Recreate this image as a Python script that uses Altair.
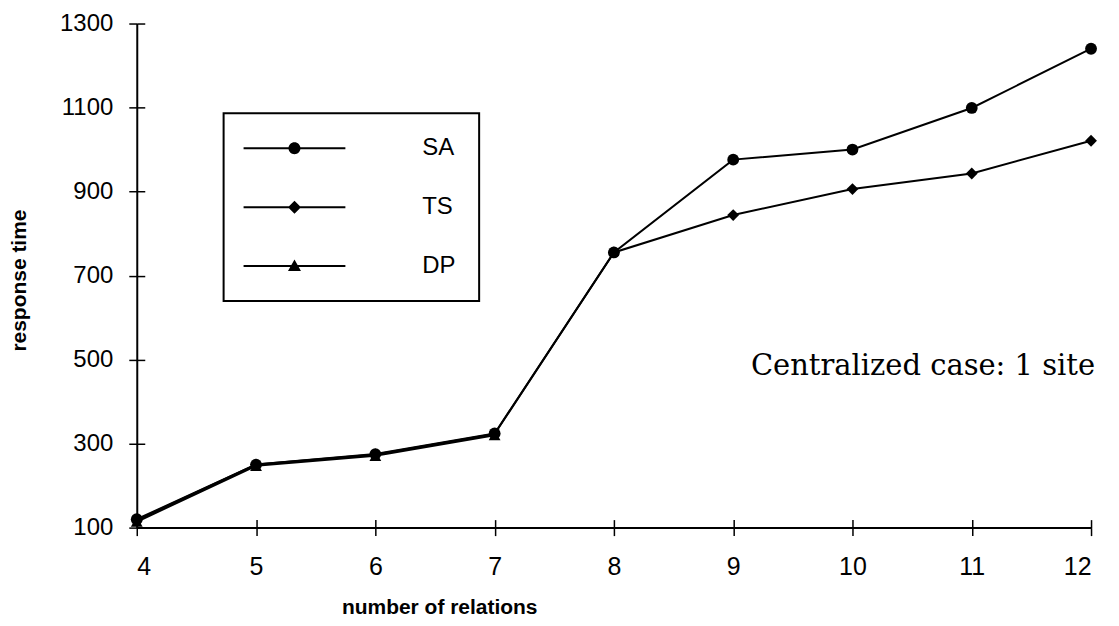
import altair as alt
import pandas as pd

relations = [4, 5, 6, 7, 8, 9, 10, 11, 12]
sa_time = [120, 250, 275, 324, 755, 976, 1000, 1099, 1240]
ts_time = [118, 250, 274, 323, 755, 844, 906, 943, 1021]
dp_relations = [4, 5, 6, 7]
dp_time = [114, 247, 271, 320]
series_names = ["SA", "TS", "DP"]
y_ticks = [100, 300, 500, 700, 900, 1100, 1300]
note_text = ["Centralized case: 1 site"]
note_x = [12]
note_y = [485]

rows = []
for name, xs, ys in [("DP", dp_relations, dp_time), ("TS", relations, ts_time), ("SA", relations, sa_time)]:
    for x, y in zip(xs, ys):
        rows.append({"series": name, "relations": x, "time": y, "draw": len(rows)})
df = pd.DataFrame(rows)
note_df = pd.DataFrame({"x": note_x, "y": note_y, "t": note_text})

xscale = alt.Scale(domain=[4, 12], nice=False, zero=False)
yscale = alt.Scale(domain=[100, 1300], nice=False, zero=False)

LBL = "Liberation Sans"

x_axis = alt.Axis(values=relations, format="d", domainColor="black", domainWidth=2,
                  tickColor="black", tickWidth=1.5, tickSize=8, labelFont=LBL,
                  labelFontSize=25, labelColor="black", labelPadding=19, grid=False,
                  title="number of relations", titleFont=LBL, titleFontSize=21,
                  titleFontWeight="bold", titleColor="black", titleX=303, titleY=69,
                  titleAlign="center", titleBaseline="top")
y_axis = alt.Axis(values=y_ticks, format="d", domainColor="black", domainWidth=2,
                  tickColor="black", tickWidth=1.5, tickSize=8, labelFont=LBL,
                  labelFontSize=24, labelColor="black", labelPadding=16, grid=False,
                  title="response time", titleFont=LBL, titleFontSize=21,
                  titleFontWeight="bold", titleColor="black", titleX=-117, titleY=257,
                  titleAngle=-90, titleAlign="center", titleBaseline="middle")

base = alt.Chart(df)

lines = base.mark_line(color="black", strokeWidth=2).encode(
    x=alt.X("relations:Q", scale=xscale, axis=x_axis),
    y=alt.Y("time:Q", scale=yscale, axis=y_axis),
    detail="series:N",
)

# inward halves of the crossing ticks
inner_ticks = base.mark_point(opacity=0).encode(
    x=alt.X("relations:Q", scale=xscale,
            axis=alt.Axis(values=relations, orient="bottom", offset=-8, domain=False,
                          labels=False, title=None, grid=False, tickColor="black",
                          tickWidth=1.5, tickSize=8)),
    y=alt.Y("time:Q", scale=yscale,
            axis=alt.Axis(values=y_ticks, orient="left", offset=-8, domain=False,
                          labels=False, title=None, grid=False, tickColor="black",
                          tickWidth=1.5, tickSize=8)),
)

points = base.mark_point(filled=True, color="black", size=140, opacity=1).encode(
    x=alt.X("relations:Q", scale=xscale, axis=None),
    y=alt.Y("time:Q", scale=yscale, axis=None),
    shape=alt.Shape("series:N", scale=alt.Scale(domain=series_names,
                    range=["circle", "diamond", "triangle-up"]), legend=None),
    order=alt.Order("draw:Q"),
)

# legend glyphs: a filled thin bar (the line) plus the filled marker
bar = "M-10.2,-0.2H10.2V0.2H-10.2Z"
legend_paths = [
    bar + "M-1.2,0A1.2,1.2,0,1,1,1.2,0A1.2,1.2,0,1,1,-1.2,0Z",
    bar + "M0,-1.3L1.3,0L0,1.3L-1.3,0Z",
    bar + "M0,-1.3L1.3,1L-1.3,1Z",
]
legend_layer = base.mark_point(filled=True, color="black", opacity=0).encode(
    x=alt.X("relations:Q", scale=xscale, axis=None),
    y=alt.Y("time:Q", scale=yscale, axis=None),
    shape=alt.Shape("legendseries:N", scale=alt.Scale(domain=series_names, range=legend_paths),
                    legend=alt.Legend(title=None, orient="none", legendX=87, legendY=90,
                                      symbolSize=100, symbolFillColor="black",
                                      symbolOpacity=1, symbolOffset=36, labelOffset=116,
                                      labelFont=LBL, labelFontSize=24, labelColor="black",
                                      rowPadding=35, padding=23, strokeColor="black")),
).transform_calculate(legendseries="datum.series")

note = alt.Chart(note_df).mark_text(font="DejaVu Serif", fontSize=29, align="right",
                                    baseline="middle", dx=4, color="black").encode(
    x=alt.X("x:Q", scale=xscale, axis=None),
    y=alt.Y("y:Q", scale=yscale, axis=None),
    text="t:N",
)

chart = alt.layer(lines, inner_ticks, legend_layer, points, note).resolve_scale(
    shape="independent"
).resolve_axis(x="independent", y="independent").properties(
    width=956, height=505,
    autosize=alt.AutoSizeParams(type="none"),
    padding={"left": 129, "top": 15, "right": 20, "bottom": 90},
    background="white",
).configure_view(stroke=None).configure_legend(strokeWidth=2)

chart.save("out.html", embed_options={"renderer": "svg", "actions": False})
